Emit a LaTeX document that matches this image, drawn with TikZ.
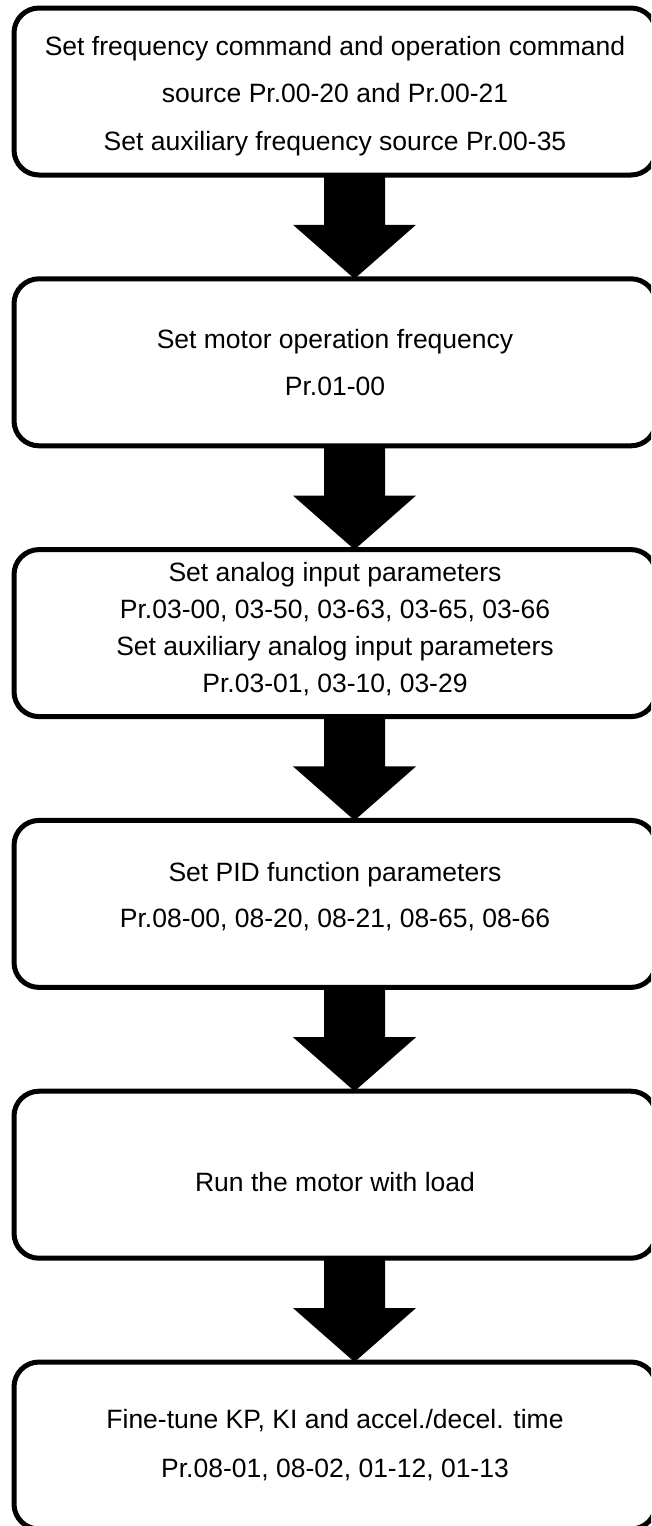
\documentclass[tikz,border=0pt]{standalone}
\usepackage{fontspec}
\setmainfont{Liberation Sans}
\usetikzlibrary{positioning,calc}

\begin{document}
\begin{tikzpicture}[x=1pt, y=1pt, node distance=103.8pt,
    every node/.style={outer sep=0pt},
    stepbox/.style={draw, line width=5pt, rounded corners=25pt, minimum width=642pt,
                    minimum height=167pt, inner sep=0pt, align=center,
                    font=\fontsize{26.5}{48}\selectfont},
    ]
    \useasboundingbox (0,0) rectangle (651,-1526);
    \clip (0,0) rectangle (651,-1526);
    \node[stepbox, font=\fontsize{26.5}{47.5}\selectfont] (src) at (335,-91.5)
        {\rule{0pt}{27.6pt}Set frequency command and operation command\\ source Pr.00-20 and Pr.00-21\\ Set auxiliary frequency source Pr.00-35};
    \node[stepbox, below=of src, font=\fontsize{26.5}{47}\selectfont] (freq) {Set motor operation frequency\\ Pr.01-00};
    \node[stepbox, below=of freq, font=\fontsize{26.5}{37}\selectfont] (ain)
        {Set analog input parameters\\ Pr.03-00, 03-50, 03-63, 03-65, 03-66\\ Set auxiliary analog input parameters\\ Pr.03-01, 03-10, 03-29\rule[-11pt]{0pt}{11pt}};
    \node[stepbox, below=of ain, font=\fontsize{26.5}{46}\selectfont] (pid)
        {Set PID function parameters\\ Pr.08-00, 08-20, 08-21, 08-65, 08-66\rule[-18pt]{0pt}{18pt}};
    \node[stepbox, below=of pid] (run) {\rule{0pt}{33pt}Run the motor with load};
    \node[stepbox, below=of run, font=\fontsize{26.5}{49}\selectfont] (tune)
        {Fine-tune KP, KI and accel./decel. time\\ Pr.08-01, 08-02, 01-12, 01-13};
    %% fat arrows from one step to the next
    \foreach \a/\b in {src/freq, freq/ain, ain/pid, pid/run, run/tune}
        \fill ($(\a.south)+(-11,0)$) -- ($(\a.south)+(50,0)$) -- ($(\b.north)+(50,54)$)
            -- ($(\b.north)+(81,54)$) -- ($(\b.north)+(19.5,0)$) -- ($(\b.north)+(-42,54)$)
            -- ($(\b.north)+(-11,54)$) -- cycle;
\end{tikzpicture}
\end{document}
